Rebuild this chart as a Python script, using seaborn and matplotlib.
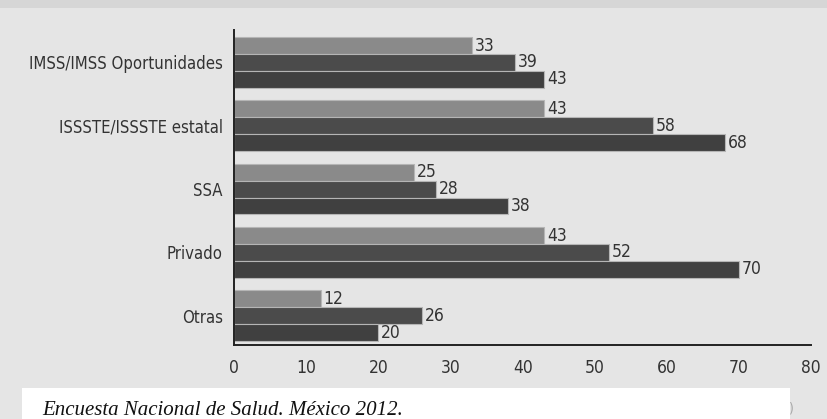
import numpy as np
import pandas as pd
import matplotlib
matplotlib.use('Agg')
import matplotlib.pyplot as plt
import seaborn as sns
from matplotlib.patches import Rectangle

# ── data ─────────────────────────────────────────────────────
categories = ["IMSS/IMSS Oportunidades", "ISSSTE/ISSSTE estatal", "SSA", "Privado", "Otras"]
series_names = ["Serie 1", "Serie 2", "Serie 3"]
serie_1 = [33, 43, 25, 43, 12]
serie_2 = [39, 58, 28, 52, 26]
serie_3 = [43, 68, 38, 70, 20]
x_ticks = [0, 10, 20, 30, 40, 50, 60, 70, 80]
footnote = "Encuesta Nacional de Salud. México 2012."

df = pd.DataFrame({
    "categoria": categories * 3,
    "valor": serie_1 + serie_2 + serie_3,
    "serie": [s for s in series_names for _ in categories],
})

sns.set_style("white")
plt.rcParams['font.family'] = ['DejaVu Sans']
plt.rcParams['font.stretch'] = 'condensed'

bg = "#e5e5e5"
ink = "#333333"
palette = ["#8a8a8a", "#4b4b4b", "#404040"]

fig = plt.figure(figsize=(8.27, 4.19), dpi=100)
fig.patch.set_facecolor(bg)
ax = fig.add_axes([0.283, 0.177, 0.698, 0.751])
ax.set_facecolor(bg)

sns.barplot(data=df, x="valor", y="categoria", hue="serie", order=categories,
            hue_order=series_names, palette=palette, orient="h", width=0.8,
            edgecolor="#b5b5b5", linewidth=0.8, saturation=1, legend=False, ax=ax)

for cont in ax.containers:
    ax.bar_label(cont, padding=2, fontsize=12.5, color=ink)

ax.set_xlim(0, 80)
ax.set_ylim(4.46, -0.51)
ax.set_xticks(x_ticks)
ax.set_xticklabels([str(t) for t in x_ticks], fontsize=12.5, color=ink)
ax.tick_params(axis='y', length=0, labelsize=12, labelcolor=ink, pad=8)
ax.tick_params(axis='x', direction='out', length=7, width=1.3, color="#222222", pad=3)
ax.set_xlabel("")
ax.set_ylabel("")
for side in ["top", "right"]:
    ax.spines[side].set_visible(False)
for side in ["left", "bottom"]:
    ax.spines[side].set_color("#222222")
    ax.spines[side].set_linewidth(1.4)

# top strip and footnote box
fig.add_artist(Rectangle((0, 1 - 8 / 419), 1, 8 / 419, transform=fig.transFigure,
                         facecolor="#d6d6d6", edgecolor="none"))
fig.add_artist(Rectangle((22 / 827, 0), 768 / 827, 31 / 419, transform=fig.transFigure,
                         facecolor="white", edgecolor="none"))
fig.text(42 / 827, 4 / 419, footnote, family="Liberation Serif", style="italic",
         stretch="normal", fontsize=15, color="#111111", va="baseline")
fig.text(789 / 827, 7 / 419, ")", family="DejaVu Sans", fontsize=10,
         color="#a8a8a8", va="baseline")

plt.savefig("out.png", dpi=100, facecolor=bg)
